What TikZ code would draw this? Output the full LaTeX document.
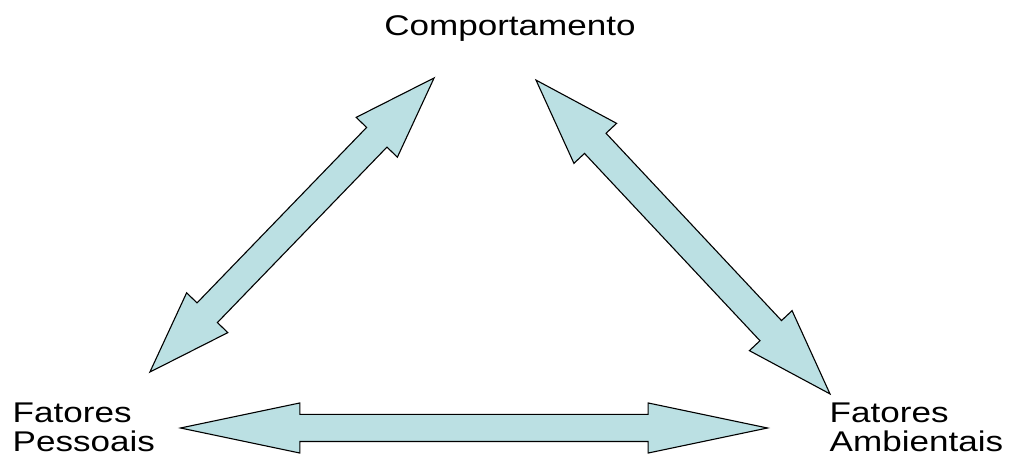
\documentclass[tikz,border=0pt]{standalone}
\usepackage{fontspec}
\usepackage{tikz}
\usetikzlibrary{
  shapes.arrows,
  positioning
}
\newfontfamily\lblfont{Liberation Sans}[FakeStretch=1.23]
\definecolor{arrowcyan}{RGB}{187,224,227}

\begin{document}
\begin{tikzpicture}[
  x=1pt, y=1pt,
  factor/.style={font=\lblfont\fontsize{28.5}{28.5}\selectfont, align=left, inner sep=0pt},
  dblarr/.style={double arrow, draw=black, line width=1.1pt, fill=arrowcyan,
               inner xsep=0pt, text height=0pt, text depth=0pt}
]
  \useasboundingbox (0,0) rectangle (1009,468);

  \node[factor, anchor=base] (comp) at (510,432) {Comportamento};
  \node[factor, anchor=base west] (pess) at (12.5,16.5) {Fatores\\Pessoais};
  \node[factor, anchor=base west] (amb) at (829.5,16.5) {Fatores\\Ambientais};

  \node[dblarr, rotate=45.98, minimum height=409, inner ysep=13.6,
        double arrow head extend=14.5, double arrow tip angle=38.3] (pc) at (292,243) {};
  \node[dblarr, rotate=-46.87, minimum height=430, inner ysep=14.2,
        double arrow head extend=14.5, double arrow tip angle=37.3] (ca) at (683,231) {};
  \node[dblarr, minimum height=587, inner ysep=13,
        double arrow head extend=11.5, double arrow tip angle=23.7] (pa) at (474,40) {};
\end{tikzpicture}
\end{document}
